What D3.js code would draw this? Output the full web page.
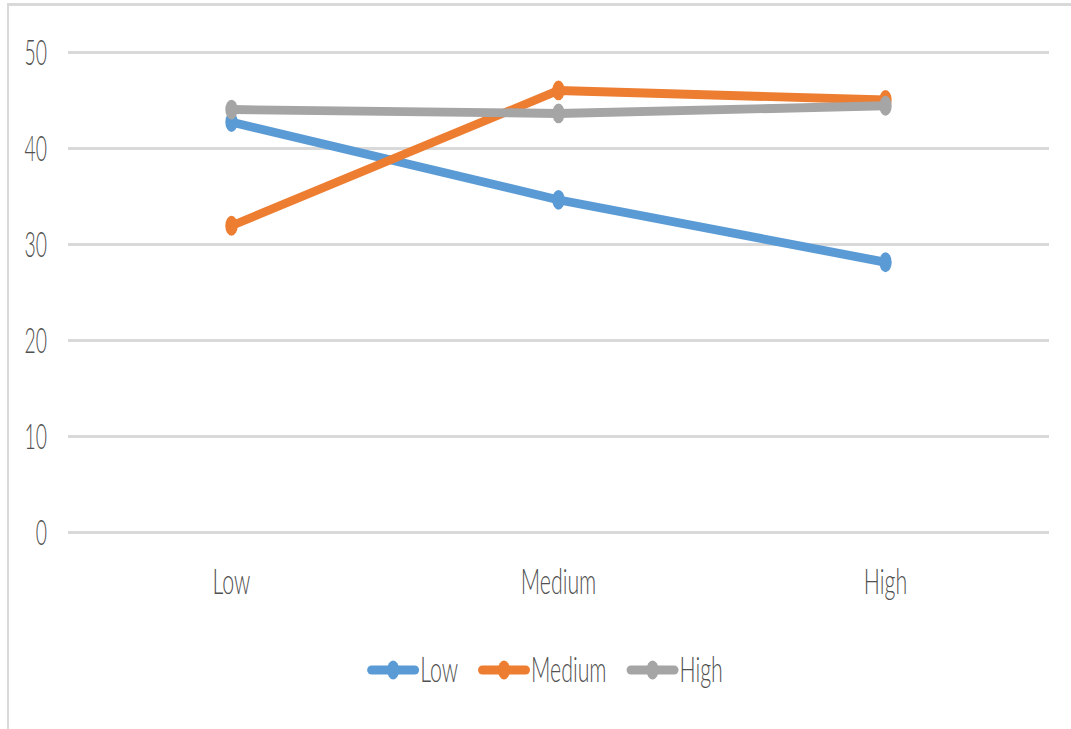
<!DOCTYPE html>
<html>
<head>
<meta charset="utf-8">
<script src="https://cdn.jsdelivr.net/npm/d3@7/dist/d3.min.js"></script>
<style>
  html, body { margin: 0; padding: 0; background: #fff; }
  svg { display: block; }
  text { font-family: Lato, "Open Sans", sans-serif; font-weight: 300; fill: #505050; }
</style>
</head>
<body>
<svg id="chart" width="1071" height="729"></svg>
<script>
// Chart data
const categories = ["Low", "Medium", "High"];
const seriesNames = ["Low", "Medium", "High"];
const lowValues = [42.7, 34.6, 28.1];
const mediumValues = [31.9, 46.0, 45.0];
const highValues = [44.0, 43.6, 44.4];
const yTicks = [0, 10, 20, 30, 40, 50];
const colors = ["#5b9bd5", "#ed7d31", "#a5a5a5"];

const seriesValues = [lowValues, mediumValues, highValues];
const series = seriesNames.map((name, i) => ({ name, values: seriesValues[i], color: colors[i] }));

const svg = d3.select("#chart");
const W = 1071, H = 729;

// Vertical stretch applied to marks and text (tall, narrow look)
const SY = 1.6;
const TX_NUM = 0.88;   // horizontal squeeze for tick numbers
const TX = 0.97;       // horizontal squeeze for words

// Frame
svg.append("line").attr("x1", 7).attr("x2", W).attr("y1", 4.5).attr("y2", 4.5)
  .attr("stroke", "#d9d9d9").attr("stroke-width", 3);
svg.append("line").attr("x1", 8).attr("x2", 8).attr("y1", 3).attr("y2", H)
  .attr("stroke", "#d9d9d9").attr("stroke-width", 2);

const plotLeft = 68, plotRight = 1049, plotTop = 52, plotBottom = 532;

const x = d3.scalePoint().domain(categories).range([plotLeft, plotRight]).padding(0.5);
const y = d3.scaleLinear().domain([0, 50]).range([plotBottom, plotTop]);

// Gridlines
const grid = d3.axisLeft(y).tickValues(yTicks).tickSize(-(plotRight - plotLeft)).tickFormat("");
const gGrid = svg.append("g").attr("transform", `translate(${plotLeft},0)`).call(grid);
gGrid.select(".domain").remove();
gGrid.selectAll(".tick line").attr("stroke", "#d9d9d9").attr("stroke-width", 3);

// Y tick labels
svg.append("g").selectAll("text").data(yTicks).join("text")
  .attr("transform", d => `translate(47,${y(d)}) scale(${TX_NUM},${SY})`)
  .attr("text-anchor", "end")
  .attr("dy", "0.36em")
  .attr("font-size", 22)
  .text(d => d);

// X category labels
svg.append("g").selectAll("text").data(categories).join("text")
  .attr("transform", d => `translate(${x(d)},594) scale(${TX},${SY})`)
  .attr("text-anchor", "middle")
  .attr("font-size", 22)
  .text(d => d);

// Lines and markers drawn in a vertically stretched group
const yS = d3.scaleLinear().domain([0, 50]).range([plotBottom / SY, plotTop / SY]);
const gMarks = svg.append("g").attr("transform", `scale(1,${SY})`);
const line = d3.line().x((d, i) => x(categories[i])).y(d => yS(d));

series.forEach(s => {
  const g = gMarks.append("g");
  g.append("path")
    .datum(s.values)
    .attr("d", line)
    .attr("fill", "none")
    .attr("stroke", s.color)
    .attr("stroke-width", 5.6)
    .attr("stroke-linejoin", "round");
  g.selectAll("circle").data(s.values).join("circle")
    .attr("cx", (d, i) => x(categories[i]))
    .attr("cy", d => yS(d))
    .attr("r", 6.2)
    .attr("fill", s.color);
});

// Legend
const legendY = 670;
const legend = svg.append("g");
const items = legend.selectAll("g").data(series).join("g");
items.append("line")
  .attr("x1", 4.5).attr("x2", 47.5)
  .attr("y1", 0).attr("y2", 0)
  .attr("stroke", d => d.color)
  .attr("stroke-width", 9)
  .attr("stroke-linecap", "round");
items.append("ellipse")
  .attr("cx", 26).attr("cy", 0).attr("rx", 6).attr("ry", 9.5)
  .attr("fill", d => d.color);
items.append("text")
  .attr("transform", `translate(53,12) scale(${TX},${SY})`)
  .attr("font-size", 22)
  .text(d => d.name);

let widths = [];
items.each(function () {
  const t = d3.select(this).select("text").node();
  widths.push(53 + t.getComputedTextLength() * TX);
});
const gap = 20;
const total = d3.sum(widths) + gap * (widths.length - 1);
let cx = 545 - total / 2;
items.attr("transform", (d, i) => {
  const tx = cx;
  cx += widths[i] + gap;
  return `translate(${tx},${legendY})`;
});
</script>
</body>
</html>
